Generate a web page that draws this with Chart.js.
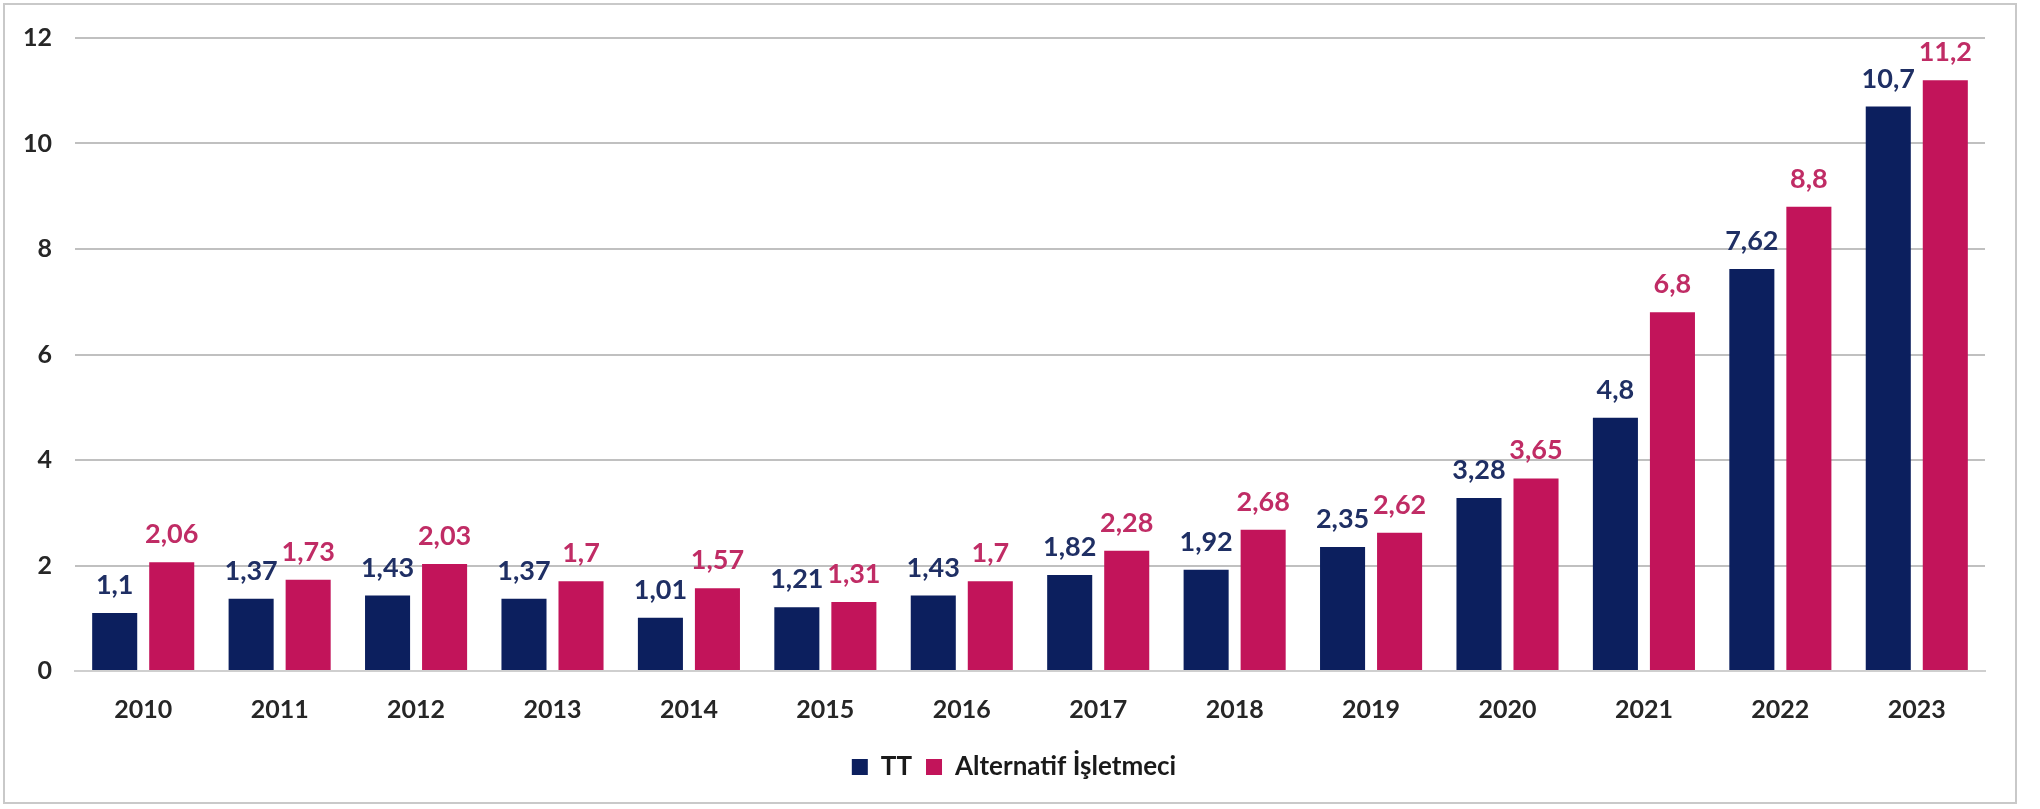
<!DOCTYPE html>
<html>
<head>
<meta charset="utf-8">
<script src="https://cdn.jsdelivr.net/npm/chart.js@4"></script>
<style>
  body { margin: 0; background: #fff; }
  #wrap { position: relative; width: 2040px; height: 809px; }
  #frame { position: absolute; left: 3px; top: 3px; width: 2010px; height: 797px; border: 2px solid #c9c9c9; pointer-events: none; }
  canvas { position: absolute; left: 0; top: 0; }
</style>
</head>
<body>
<div id="wrap">
  <canvas id="chart" width="2040" height="809"></canvas>
  <div id="frame"></div>
</div>
<script>
const years = ['2010', '2011', '2012', '2013', '2014', '2015', '2016', '2017', '2018', '2019', '2020', '2021', '2022', '2023'];
const ttValues = [1.1, 1.37, 1.43, 1.37, 1.01, 1.21, 1.43, 1.82, 1.92, 2.35, 3.28, 4.8, 7.62, 10.7];
const altValues = [2.06, 1.73, 2.03, 1.7, 1.57, 1.31, 1.7, 2.28, 2.68, 2.62, 3.65, 6.8, 8.8, 11.2];
const yTicks = [0, 2, 4, 6, 8, 10, 12];

const FONT = 'Lato, "Open Sans", sans-serif';

// draw the value above each bar, comma as decimal mark
const valueLabels = {
    id: 'valueLabels',
    afterDatasetsDraw(chart) {
        const ctx = chart.ctx;
        ctx.save();
        ctx.font = 'bold 27px ' + FONT;
        ctx.textAlign = 'center';
        ctx.textBaseline = 'alphabetic';
        chart.data.datasets.forEach((ds, i) => {
            const meta = chart.getDatasetMeta(i);
            ctx.fillStyle = ds.labelColor;
            meta.data.forEach((bar, j) => {
                const txt = String(ds.data[j]).replace('.', ',');
                ctx.fillText(txt, bar.x, bar.y - 19);
            });
        });
        ctx.restore();
    }
};

// legend sits a bit left of the plot centre, as in the original
const legendShift = {
    id: 'legendShift',
    afterLayout(chart) {
        const lg = chart.legend;
        const d = (chart.chartArea.left + chart.chartArea.right) / 2 - 16 - (lg.left + lg.right) / 2;
        lg.left += d;
        lg.right += d;
    }
};

new Chart(document.getElementById('chart'), {
    type: 'bar',
    data: {
        labels: years,
        datasets: [
            { label: 'TT', data: ttValues, backgroundColor: '#0c1f5e', labelColor: '#1f2f64' },
            { label: 'Alternatif İşletmeci', data: altValues, backgroundColor: '#c2145a', labelColor: '#c02c65' }
        ]
    },
    options: {
        responsive: false,
        animation: false,
        layout: { padding: { top: 27, right: 55, bottom: 19, left: 0 } },
        datasets: {
            bar: { categoryPercentage: 0.836, barPercentage: 0.79 }
        },
        plugins: {
            legend: {
                position: 'bottom',
                labels: {
                    boxWidth: 16,
                    boxHeight: 16,
                    padding: 14,
                    color: '#1a1a1a',
                    font: { family: FONT, size: 26, weight: 'bold' }
                }
            },
            tooltip: { enabled: false }
        },
        scales: {
            x: {
                grid: { display: false },
                border: { display: true, color: '#cfcfcf', width: 2 },
                ticks: { color: '#262626', padding: 16, font: { family: FONT, size: 25, weight: 'bold' } },
                afterFit(s) { s.height = 69; }
            },
            y: {
                min: 0,
                max: 12,
                afterBuildTicks(s) { s.ticks = yTicks.map(v => ({ value: v })); },
                grid: { color: '#c0c0c0', lineWidth: 2, drawTicks: false },
                border: { display: false },
                ticks: { color: '#262626', padding: 23, font: { family: FONT, size: 25, weight: 'bold' } },
                afterFit(s) { s.width = 75; }
            }
        }
    },
    plugins: [valueLabels, legendShift]
});
</script>
</body>
</html>
